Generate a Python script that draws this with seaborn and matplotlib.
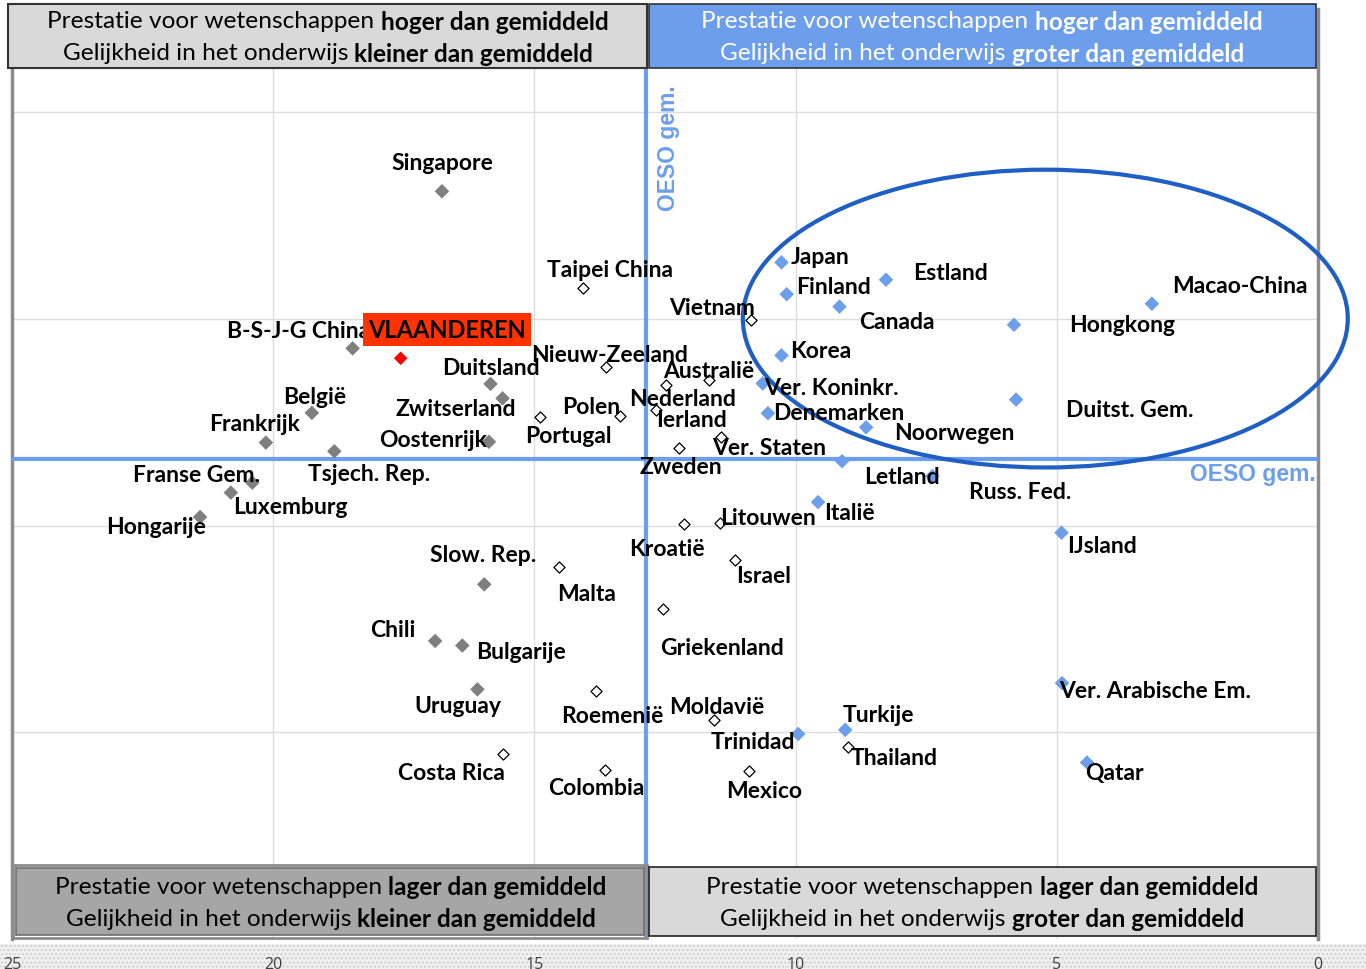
import matplotlib
matplotlib.use("Agg")
import matplotlib.pyplot as plt
import seaborn as sns
import pandas as pd
from matplotlib.patches import Ellipse, Rectangle

# ---------------- data ----------------
gray_names = ["Singapore", "B-S-J-G China", "Duitsland", "Zwitserland", "België", "Frankrijk",
              "Oostenrijk", "Tsjech. Rep.", "Franse Gem.", "Luxemburg", "Hongarije",
              "Slow. Rep.", "Chili", "Bulgarije", "Uruguay"]
gray_x = [16.77, 18.48, 15.84, 15.61, 19.26, 20.14, 15.87, 18.83, 20.40, 20.81, 21.40,
          15.96, 16.90, 16.38, 16.09]
gray_y = [555.9, 517.9, 509.3, 505.8, 502.3, 495.1, 495.3, 493.0, 485.4, 483.0, 477.1,
          460.8, 447.1, 446.0, 435.4]

white_names = ["Taipei China", "Vietnam", "Nieuw-Zeeland", "Australië", "Nederland", "Ierland",
               "Polen", "Portugal", "Ver. Staten", "Zweden", "Kroatië", "Litouwen", "Israel",
               "Malta", "Griekenland", "Roemenië", "Moldavië", "Thailand", "Mexico",
               "Costa Rica", "Colombia"]
white_x = [14.07, 10.85, 13.63, 11.66, 12.49, 12.68, 13.36, 14.90, 11.43, 12.24, 12.13, 11.45,
           11.16, 14.52, 12.54, 13.83, 11.57, 9.00, 10.89, 15.60, 13.64]
white_y = [532.6, 524.8, 513.5, 510.2, 509.1, 503.1, 501.6, 501.3, 496.5, 493.7, 475.5, 475.6,
           466.7, 464.9, 454.9, 434.9, 428.1, 421.5, 415.7, 419.7, 415.8]

blue_names = ["Japan", "Finland", "Estland", "Canada", "Macao-China", "Hongkong", "Korea",
              "Ver. Koninkr.", "Denemarken", "Noorwegen", "Duitst. Gem.", "Letland",
              "Russ. Fed.", "Italië", "IJsland", "Ver. Arabische Em.", "Qatar", "Trinidad",
              "Turkije"]
blue_x = [10.27, 10.17, 8.27, 9.16, 3.18, 5.82, 10.27, 10.63, 10.53, 8.65, 5.78, 9.11, 7.38,
          9.57, 4.91, 4.90, 4.42, 9.95, 9.05]
blue_y = [538.7, 531.0, 534.5, 528.0, 528.7, 523.6, 516.2, 509.4, 502.2, 498.8, 505.5, 490.6,
          487.0, 480.7, 473.3, 436.9, 417.7, 424.6, 425.6]

flanders_name = ["VLAANDEREN"]
flanders_x = [17.56]
flanders_y = [515.5]

oeso_x = 12.86
oeso_y = 491.2

x_ticks = [25, 20, 15, 10, 5, 0]
y_grid = [425, 475, 525, 575]

quadrant_texts = {
    "tl": [[("Prestatie voor wetenschappen ", "normal"), ("hoger dan gemiddeld", "bold")],
           [("Gelijkheid in het onderwijs ", "normal"), ("kleiner dan gemiddeld", "bold")]],
    "tr": [[("Prestatie voor wetenschappen ", "normal"), ("hoger dan gemiddeld", "bold")],
           [("Gelijkheid in het onderwijs ", "normal"), ("groter dan gemiddeld", "bold")]],
    "bl": [[("Prestatie voor wetenschappen ", "normal"), ("lager dan gemiddeld", "bold")],
           [("Gelijkheid in het onderwijs ", "normal"), ("kleiner dan gemiddeld", "bold")]],
    "br": [[("Prestatie voor wetenschappen ", "normal"), ("lager dan gemiddeld", "bold")],
           [("Gelijkheid in het onderwijs ", "normal"), ("groter dan gemiddeld", "bold")]],
}

# label offsets (pixels: right, down) of label centre relative to marker
label_offsets = {
    "Singapore": (0, -29), "B-S-J-G China": (-54, -18), "Duitsland": (0, -16),
    "Zwitserland": (-47, 10), "België": (3, -16), "Frankrijk": (-11, -19),
    "Oostenrijk": (-56, -2), "Tsjech. Rep.": (35, 22), "Franse Gem.": (-56, -8),
    "Luxemburg": (59, 14), "Hongarije": (-44, 10), "Slow. Rep.": (-1, -30),
    "Chili": (-42, -11), "Bulgarije": (59, 6), "Uruguay": (-20, 16),
    "Costa Rica": (-52, 18), "Taipei China": (27, -18), "Vietnam": (-39, -12),
    "Nieuw-Zeeland": (4, -12), "Australië": (0, -10), "Nederland": (17, 14),
    "Ierland": (36, 10), "Polen": (-29, -9), "Portugal": (29, 19), "Ver. Staten": (48, 11),
    "Zweden": (2, 18), "Kroatië": (-17, 25), "Litouwen": (48, -6), "Israel": (29, 16),
    "Malta": (27, 26), "Griekenland": (59, 39), "Roemenië": (17, 24), "Moldavië": (3, -13),
    "Trinidad": (-45, 8), "Turkije": (33, -15), "Thailand": (46, 11), "Mexico": (15, 20),
    "Colombia": (-9, 17), "Japan": (39, -6), "Finland": (47, -8), "Estland": (65, -7),
    "Canada": (57, 15), "Macao-China": (88, -18), "Hongkong": (108, 0), "Korea": (39, -5),
    "Ver. Koninkr.": (69, 4), "Denemarken": (71, -1), "Noorwegen": (88, 5),
    "Duitst. Gem.": (114, 10), "Letland": (60, 15), "Russ. Fed.": (88, 15), "Italië": (31, 10),
    "IJsland": (40, 13), "Ver. Arabische Em.": (93, 7), "Qatar": (27, 10),
    "VLAANDEREN": (46, -29),
}

# ---------------- style ----------------
sns.set_style("white")
plt.rcParams["font.family"] = ["Lato", "DejaVu Sans"]

W, H = 1366, 970
fig = plt.figure(figsize=(W / 100, H / 100), dpi=100)
ax = fig.add_axes([12 / W, 1 - 940 / H, 1306 / W, 930 / H])

BLUE = "#6D9EEB"

df_gray = pd.DataFrame({"land": gray_names, "x": gray_x, "y": gray_y})
df_white = pd.DataFrame({"land": white_names, "x": white_x, "y": white_y})
df_blue = pd.DataFrame({"land": blue_names, "x": blue_x, "y": blue_y})
df_fl = pd.DataFrame({"land": flanders_name, "x": flanders_x, "y": flanders_y})

sns.scatterplot(data=df_gray, x="x", y="y", marker="D", s=55, color="#7F7F7F",
                edgecolor="none", ax=ax, zorder=5, legend=False)
sns.scatterplot(data=df_white, x="x", y="y", marker="D", s=32, color="white",
                edgecolor="black", linewidth=0.9, ax=ax, zorder=5, legend=False)
sns.scatterplot(data=df_blue, x="x", y="y", marker="D", s=55, color=BLUE,
                edgecolor="none", ax=ax, zorder=5, legend=False)
sns.scatterplot(data=df_fl, x="x", y="y", marker="D", s=48, color="#FF0000",
                edgecolor="none", ax=ax, zorder=6, legend=False)

ax.set_xlim(25, 0)
ax.set_ylim(375, 600)
ax.set_xticks(x_ticks)
ax.set_xticklabels([str(t) for t in x_ticks], fontsize=11.5, color="#404040",
                   fontfamily=["Open Sans", "DejaVu Sans"])
ax.set_yticks(y_grid)
ax.set_yticklabels([])
ax.tick_params(axis="both", length=0, pad=12)
ax.grid(True, color="#DDDDDD", linewidth=1)
ax.set_xlabel("")
ax.set_ylabel("")
for side in ["top", "bottom"]:
    ax.spines[side].set_visible(False)
for side in ["left", "right"]:
    ax.spines[side].set_color("#8C8C8C")
    ax.spines[side].set_linewidth(2.5)

# OESO average lines
ax.axvline(oeso_x, color=BLUE, linewidth=3, zorder=3)
ax.axhline(oeso_y, color=BLUE, linewidth=3, zorder=3)
ax.text(12.44, 566.5, "OESO gem.", rotation=90, ha="center", va="center", color=BLUE,
        fontsize=16.5, fontweight="bold", fontfamily=["Liberation Sans", "DejaVu Sans"])
ax.text(0.05, 487.5, "OESO gem.", ha="right", va="center", color=BLUE,
        fontsize=16.5, fontweight="bold", fontfamily=["Liberation Sans", "DejaVu Sans"])

# ellipse
ax.add_patch(Ellipse((5.22, 525.1), 11.58, 72.05, fill=False, edgecolor="#1F5FC4",
                     linewidth=3, zorder=4, clip_on=False))

# labels
LABEL_FS = 16.5
for df in (df_gray, df_white, df_blue):
    for _, r in df.iterrows():
        dx, dy = label_offsets[r["land"]]
        ax.annotate(r["land"], (r["x"], r["y"]), xytext=(dx * 0.72, -dy * 0.72),
                    textcoords="offset points", ha="center", va="center",
                    fontsize=LABEL_FS, fontweight="bold", color="black", zorder=7)
for _, r in df_fl.iterrows():
    dx, dy = label_offsets[r["land"]]
    ax.annotate(r["land"], (r["x"], r["y"]), xytext=(dx * 0.72, -dy * 0.72),
                textcoords="offset points", ha="center", va="center",
                fontsize=17, fontweight="bold", color="black", zorder=7,
                bbox=dict(boxstyle="square,pad=0.22", fc="#FF3300", ec="none"))

# ---------------- quadrant boxes ----------------
def fig_rect(x0, y0, x1, y1, fc, ec, lw, z=2):
    fig.patches.append(Rectangle((x0 / W, 1 - y1 / H), (x1 - x0) / W, (y1 - y0) / H,
                                 transform=fig.transFigure, facecolor=fc, edgecolor=ec,
                                 linewidth=lw, zorder=z))

renderer = fig.canvas.get_renderer()

def text_width(s, weight, size):
    t = fig.text(0, 0, s, fontsize=size, fontweight=weight)
    w = t.get_window_extent(renderer).width
    t.remove()
    return w

def rich_line(xc, yc, pieces, color, size=17.6):
    sp = {w: text_width("x x", w, size) - text_width("xx", w, size) for w in ("normal", "bold")}
    widths = []
    for s, w in pieces:
        core = s.strip()
        n_sp = len(s) - len(s.rstrip())
        widths.append(text_width(core, w, size) + n_sp * sp[w])
    x = xc - sum(widths) / 2
    for (s, w), wd in zip(pieces, widths):
        fig.text(x / W, 1 - yc / H, s.strip(), fontsize=size, fontweight=w, color=color,
                 ha="left", va="center", zorder=5)
        x += wd

# top-left
fig_rect(8, 5, 647, 69, "#D9D9D9", "#333333", 1.5)
# top-right
fig_rect(649, 5, 1316, 69, BLUE, "#333333", 1.2)
# bottom-left (double border)
fig_rect(13, 866, 647, 939, "none", "#8C8C8C", 2.0)
fig_rect(16, 869, 644, 936, "#A6A6A6", "#6E6E6E", 1.2)
# bottom-right
fig_rect(649, 868, 1316, 937, "#D9D9D9", "#222222", 1.2)

for key, xc, ys, col in [("tl", 328, (22, 54), "black"), ("tr", 982, (22, 54), "white"),
                         ("bl", 331, (888, 920), "black"), ("br", 982, (888, 920), "black")]:
    for line, yc in zip(quadrant_texts[key], ys):
        rich_line(xc, yc, line, col)

# bottom band behind tick labels
band = Rectangle((0, 0), 1, 25 / H, transform=fig.transFigure, facecolor="#F0F0F0",
                 edgecolor="#CFCFCF", hatch="....", linewidth=0, zorder=-1)
fig.patches.append(band)

fig.savefig("out.png", dpi=100)
